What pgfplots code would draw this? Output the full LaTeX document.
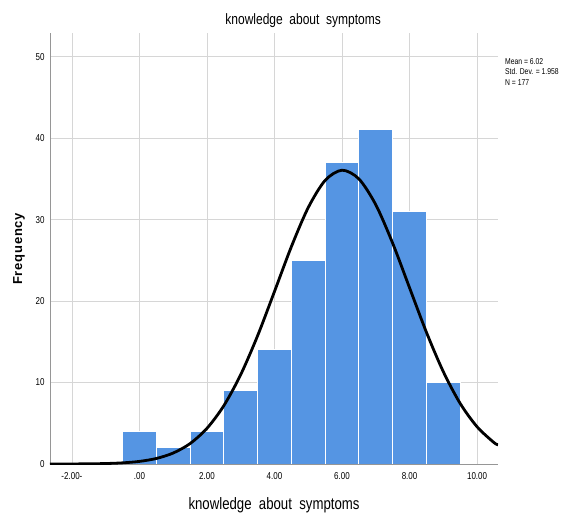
\documentclass[border=0pt]{standalone}
\usepackage{fontspec}
\setmainfont{Liberation Sans}
\newfontfamily\narrow[FakeStretch=0.8]{Liberation Sans}
\newfontfamily\spaced[LetterSpace=6]{Liberation Sans}
\usepackage{pgfplots}
\pgfplotsset{compat=1.18}

\definecolor{barblue}{RGB}{85,149,227}
\definecolor{gridgray}{RGB}{214,214,214}
\definecolor{axisgray}{RGB}{150,150,150}

\begin{document}
\begin{tikzpicture}[x=1pt,y=1pt]
\useasboundingbox (0,0) rectangle (571,515);
\begin{axis}[%
at={(50pt,51pt)}, anchor=south west,
scale only axis,
width=448pt, height=431pt,
xmin=-2.65, xmax=10.62,
ymin=0, ymax=52.9,
axis lines=left,
axis line style={axisgray, line width=0.8pt, -},
xtick={-2,0,2,4,6,8,10},
xticklabels={-2.00-, .00, 2.00, 4.00, 6.00, 8.00, 10.00},
ytick={0,10,20,30,40,50},
major tick length=0pt,
grid=major,
major grid style={gridgray, line width=0.8pt},
tick label style={font=\narrow\fontsize{10}{11}\selectfont},
/pgf/number format/assume math mode=true,
xticklabel style={yshift=-5pt},
yticklabel style={xshift=-2pt},
title={knowledge\ \ about\ \ symptoms},
title style={font=\narrow\fontsize{15}{16}\selectfont, at={(0.565,1)}, yshift=-4pt},
xlabel={knowledge\ \ about\ \ symptoms},
xlabel style={font=\narrow\fontsize{16.5}{18}\selectfont, yshift=-11pt},
ylabel={\textbf{Frequency}},
ylabel style={font=\spaced\bfseries\fontsize{13}{14}\selectfont, yshift=4pt},
clip=true]
\addplot[ybar interval, fill=barblue, draw=white, line width=1pt]
  coordinates {(-0.5,4) (0.5,2) (1.5,4) (2.5,9) (3.5,14) (4.5,25) (5.5,37) (6.5,41) (7.5,31) (8.5,10) (9.5,10)};
\addplot[axisgray, line width=0.8pt] coordinates {(-2.65,0) (10.62,0)};
\addplot[black, line width=2.8pt, smooth]
  coordinates {(-2.65,0.002) (-2,0.008) (-1.5,0.023) (-1,0.058) (-0.5,0.141) (0,0.319) (0.5,0.678) (1,1.347) (1.5,2.510) (2,4.381) (2.5,7.165) (3,10.98) (3.5,15.75) (4,21.18) (4.5,26.68) (5,31.48) (5.5,34.81) (6,36.06) (6.5,34.99) (7,31.82) (7.5,27.10) (8,21.63) (8.5,16.17) (9,11.33) (9.5,7.43) (10,4.57) (10.5,2.63) (10.62,2.37)};
\end{axis}
\node[anchor=north west, align=left, font=\narrow\fontsize{8.5}{10.5}\selectfont, inner sep=0pt] at (505,457)
  {Mean = 6.02\\Std. Dev. = 1.958\\N = 177};
\end{tikzpicture}
\end{document}
